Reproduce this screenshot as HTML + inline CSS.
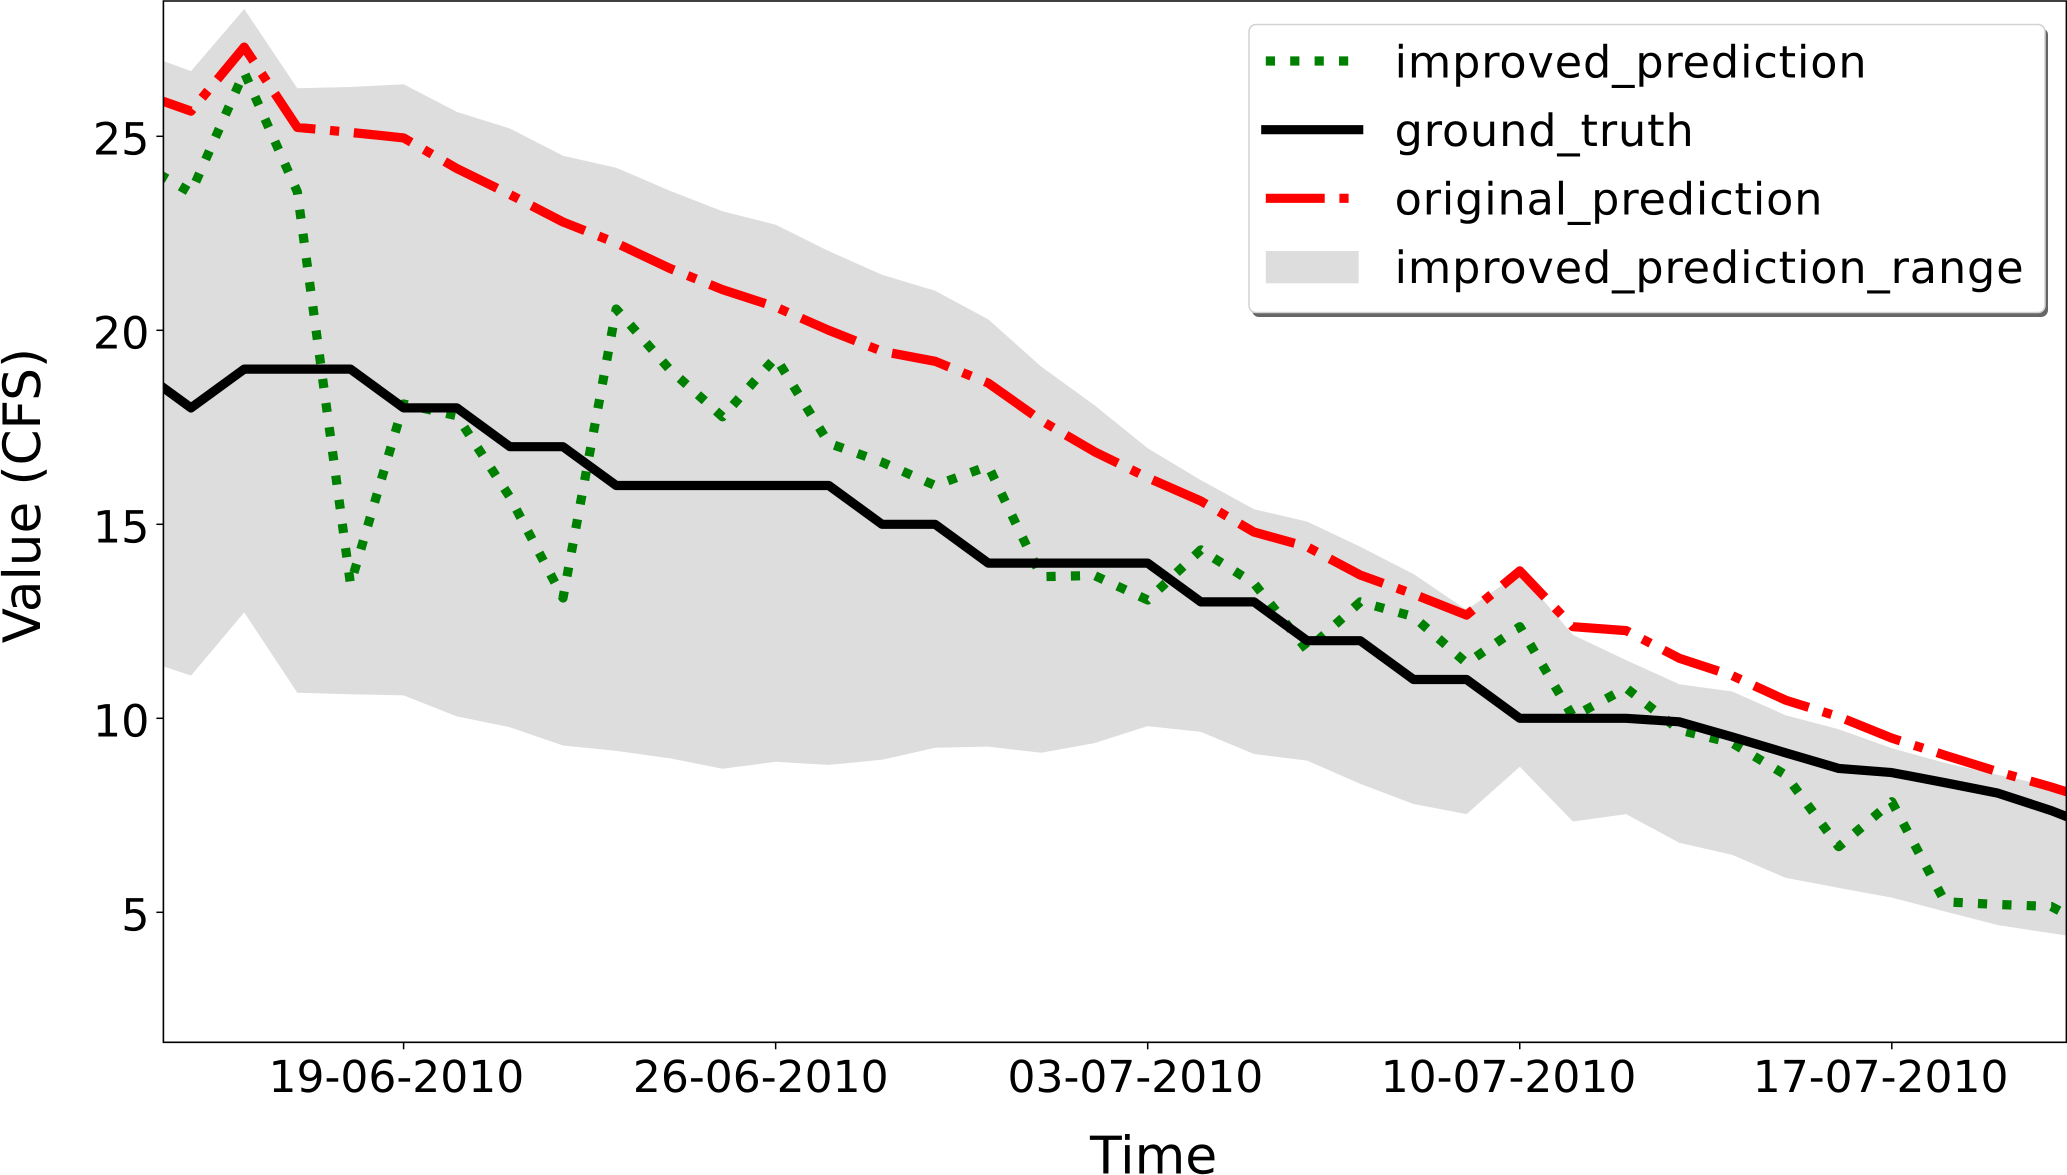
<!DOCTYPE html>
<html>
<head>
<meta charset="utf-8">
<title>Prediction chart</title>
<style>
html,body{margin:0;padding:0;background:#fff;}
svg{display:block;}
text{font-family:"DejaVu Sans","Liberation Sans",sans-serif;fill:#000;text-rendering:geometricPrecision;}
</style>
</head>
<body>
<svg id="chart" xmlns="http://www.w3.org/2000/svg" width="2067" height="1175" viewBox="0 0 2067 1175">
  <defs>
    <clipPath id="plot-clip"><rect x="163.4" y="1" width="1903" height="1041.3"/></clipPath>
  </defs>
  <rect width="2067" height="1175" fill="#fff"/>
  <g id="marks" clip-path="url(#plot-clip)"></g>
  <g id="axes"></g>
  <g id="legend">
    <rect x="1252" y="28" width="796" height="289" rx="7" fill="#666"/>
    <rect x="1249" y="24.5" width="796" height="288" rx="7" fill="#fff" stroke="#d2d2d2" stroke-width="1.5"/>
    <line x1="1265.8" x2="1358.7" y1="61" y2="61" stroke="#008000" stroke-width="9.2" stroke-dasharray="9.2 15.2"/>
    <line x1="1265.8" x2="1358.7" y1="129.7" y2="129.7" stroke="#000" stroke-width="9.2" stroke-linecap="square"/>
    <line x1="1265.8" x2="1358.7" y1="198.3" y2="198.3" stroke="#f00" stroke-width="9.2" stroke-dasharray="58.9 14.7 9.2 14.7"/>
    <rect x="1265.8" y="251" width="92.9" height="32.3" fill="#dddddd"/>
    <text x="1394.6" y="77.3" font-size="44.5" letter-spacing="0.89">improved_prediction</text>
    <text x="1394.6" y="146" font-size="44.5" letter-spacing="0.89">ground_truth</text>
    <text x="1394.6" y="214.6" font-size="44.5" letter-spacing="0.89">original_prediction</text>
    <text x="1394.6" y="283.2" font-size="44.5" letter-spacing="0.89">improved_prediction_range</text>
  </g>
  <text x="1090" y="1173.3" font-size="52">Time</text>
  <text transform="translate(40,643.3) rotate(-90)" font-size="51.5">Value (CFS)</text>
</svg>
<script>
const days = [-5,-4,-3,-2,-1,0,1,2,3,4,5,6,7,8,9,10,11,12,13,14,15,16,17,18,19,20,21,22,23,24,25,26,27,28,29,30,31,31.3];
const groundTruth = [19,18,19,19,19,18,18,17,17,16,16,16,16,16,15,15,14,14,14,14,13,13,12,12,11,11,10,10,10,9.91,9.52,9.11,8.71,8.6,8.34,8.07,7.62,7.46];
const originalPrediction = [26.13,25.65,27.3,25.23,25.1,24.96,24.17,23.5,22.79,22.25,21.6,21.05,20.6,20.0,19.46,19.2,18.64,17.67,16.87,16.2,15.6,14.8,14.42,13.69,13.2,12.66,13.8,12.36,12.26,11.55,11.1,10.47,10.04,9.49,9.05,8.62,8.23,8.1];
const improvedPrediction = [24.34,23.55,26.65,23.57,13.45,18.1,17.8,15.7,13.1,20.55,19.0,17.77,19.3,17.09,16.6,16.0,16.5,13.65,13.68,13.05,14.34,13.48,11.76,13.0,12.62,11.42,12.36,10.04,10.78,9.7,9.36,8.54,6.69,7.85,5.27,5.2,5.15,4.93];
const rangeUpper = [27.18,26.68,28.28,26.24,26.27,26.34,25.63,25.2,24.5,24.19,23.6,23.07,22.72,22.04,21.43,21.02,20.28,19.06,18.07,16.96,16.14,15.39,15.07,14.42,13.72,12.79,13.75,12.15,11.5,10.88,10.69,10.08,9.72,9.23,8.85,8.54,8.25,8.0];
const rangeLower = [11.56,11.1,12.73,10.66,10.62,10.59,10.05,9.77,9.3,9.16,8.97,8.7,8.88,8.8,8.93,9.24,9.27,9.11,9.36,9.8,9.65,9.08,8.91,8.31,7.79,7.53,8.75,7.34,7.53,6.79,6.48,5.89,5.63,5.38,5.02,4.67,4.46,4.4];
const xTickDays = [0,7,14,21,28];
const xTickLabels = ["19-06-2010","26-06-2010","03-07-2010","10-07-2010","17-07-2010"];
const yTickValues = [5,10,15,20,25];

const NS = "http://www.w3.org/2000/svg";
const xScale = d => 403.6 + d * 53.15;
const yScale = v => 912.3 - (v - 5) * 38.8;
const marks = document.getElementById("marks");
const axes = document.getElementById("axes");

function pts(values) {
  return values.map((v, i) => xScale(days[i]).toFixed(1) + "," + yScale(v).toFixed(1));
}

const band = document.createElementNS(NS, "polygon");
band.setAttribute("points", pts(rangeUpper).concat(pts(rangeLower).reverse()).join(" "));
band.setAttribute("fill", "#dddddd");


marks.appendChild(band);

const greenLine = document.createElementNS(NS, "polyline");
greenLine.setAttribute("points", pts(improvedPrediction).join(" "));
greenLine.setAttribute("fill", "none");
greenLine.setAttribute("stroke", "#008000");
greenLine.setAttribute("stroke-width", "9.2");
greenLine.setAttribute("stroke-linejoin", "round");
greenLine.setAttribute("stroke-dasharray", "9.2 15.2");


marks.appendChild(greenLine);

const blackLine = document.createElementNS(NS, "polyline");
blackLine.setAttribute("points", pts(groundTruth).join(" "));
blackLine.setAttribute("fill", "none");
blackLine.setAttribute("stroke", "#000");
blackLine.setAttribute("stroke-width", "9.2");
blackLine.setAttribute("stroke-linejoin", "round");


marks.appendChild(blackLine);

const redLine = document.createElementNS(NS, "polyline");
redLine.setAttribute("points", pts(originalPrediction).join(" "));
redLine.setAttribute("fill", "none");
redLine.setAttribute("stroke", "#f00");
redLine.setAttribute("stroke-width", "9.2");
redLine.setAttribute("stroke-linejoin", "round");
redLine.setAttribute("stroke-dasharray", "58.9 14.7 9.2 14.7");


marks.appendChild(redLine);

const frame = document.createElementNS(NS, "path");
frame.setAttribute("d", "M163.4 1 H2066.4 V1042.3 H163.4 Z");
frame.setAttribute("fill", "none");
frame.setAttribute("stroke", "#000");
frame.setAttribute("stroke-width", "1.6");


axes.appendChild(frame);

yTickValues.forEach(v => {
  const tick = document.createElementNS(NS, "line");
  tick.setAttribute("x1", "156.4");
  tick.setAttribute("x2", "163.4");
  tick.setAttribute("y1", yScale(v));
  tick.setAttribute("y2", yScale(v));
  tick.setAttribute("stroke", "#000");
  tick.setAttribute("stroke-width", "1.5");
  
  
  axes.appendChild(tick);
  const label = document.createElementNS(NS, "text");
  label.setAttribute("x", "149.5");
  label.setAttribute("y", yScale(v) + 18);
  label.setAttribute("font-size", "44.5");
  label.setAttribute("text-anchor", "end");
  label.textContent = String(v);
  
  
  axes.appendChild(label);
});

xTickDays.forEach((d, i) => {
  const tick = document.createElementNS(NS, "line");
  tick.setAttribute("x1", xScale(d));
  tick.setAttribute("x2", xScale(d));
  tick.setAttribute("y1", "1042.3");
  tick.setAttribute("y2", "1049.3");
  tick.setAttribute("stroke", "#000");
  tick.setAttribute("stroke-width", "1.5");
  
  
  axes.appendChild(tick);
  const nudge = i === 0 ? -7.25 : i === 1 ? -14.9 : i === 2 ? -12.35 : -11.2;
  const label = document.createElementNS(NS, "text");
  label.setAttribute("x", xScale(d) + nudge);
  label.setAttribute("y", "1092.2");
  label.setAttribute("font-size", "44");
  label.setAttribute("text-anchor", "middle");
  label.textContent = xTickLabels[i];
  
  
  axes.appendChild(label);
});
</script>
</body>
</html>
